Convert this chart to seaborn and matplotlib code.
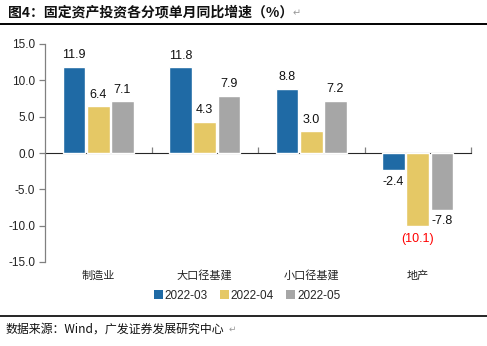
import matplotlib
matplotlib.use("Agg")
import matplotlib.pyplot as plt
import seaborn as sns
import pandas as pd
from matplotlib.lines import Line2D
from matplotlib.patches import Patch

categories = ["制造业", "大口径基建", "小口径基建", "地产"]
series_names = ["2022-03", "2022-04", "2022-05"]
v_2022_03 = [11.9, 11.8, 8.8, -2.4]
v_2022_04 = [6.4, 4.3, 3.0, -10.1]
v_2022_05 = [7.1, 7.9, 7.2, -7.8]
y_ticks = [-15, -10, -5, 0, 5, 10, 15]
colors = ["#1f6aa5", "#e5c865", "#a6a6a6"]

rows = []
for name, vals in zip(series_names, [v_2022_03, v_2022_04, v_2022_05]):
    for c, v in zip(categories, vals):
        rows.append({"cat": c, "series": name, "value": v})
df = pd.DataFrame(rows)

sns.set_style("white")
plt.rcParams["font.family"] = ["Liberation Sans", "Noto Sans CJK SC", "DejaVu Sans"]

fig = plt.figure(figsize=(4.87, 3.46), dpi=100)
ax = fig.add_axes([45/487, 1-262/346, (471-45)/487, (262-44)/346])

sns.barplot(data=df, x="cat", y="value", hue="series", palette=colors,
            order=categories, hue_order=series_names, width=0.68, gap=0.06,
            legend=False, ax=ax, errorbar=None, saturation=1)

ax.set_ylim(-15, 15)
ax.set_xlim(-0.5, 3.5)
ax.set_yticks(y_ticks)
ax.set_yticklabels([f"{t:.1f}" for t in y_ticks], fontsize=8.5, color="#222222")
ax.set_xlabel("")
ax.set_ylabel("")
for s in ["top", "right", "bottom"]:
    ax.spines[s].set_visible(False)
ax.spines["left"].set_color("#808080")
ax.spines["left"].set_linewidth(0.9)
ax.tick_params(axis="y", direction="out", length=4, color="#808080", width=0.9, pad=3, left=True)
ax.tick_params(axis="x", length=0, pad=6)
ax.set_xticks(range(len(categories)))
ax.set_xticklabels(categories, fontsize=8, family=["Noto Sans CJK SC"], color="#222222")

sec = ax.secondary_xaxis(0.5)
sec.set_xticks([0.5, 1.5, 2.5, 3.5])
sec.set_xticklabels([])
sec.tick_params(direction="out", length=4, color="#808080", width=0.9)
sec.spines["bottom"].set_color("#808080")
sec.spines["bottom"].set_linewidth(0.9)

all_vals = [v_2022_03, v_2022_04, v_2022_05]
for ci, (cont, vals) in enumerate(zip(ax.containers, all_vals)):
    labels = [f"{v:.1f}" for v in vals]
    if ci == 1:
        labels[3] = ""
    ax.bar_label(cont, labels=labels, padding=4, fontsize=9, color="#111111")
    if ci == 1:
        bar = cont.patches[3]
        ax.annotate(f"({abs(vals[3]):.1f})", (bar.get_x() + bar.get_width()/2, vals[3]),
                    xytext=(0, -5), textcoords="offset points", ha="center", va="top",
                    fontsize=9, color="#ff0000")

handles = [Patch(facecolor=c, edgecolor="none") for c in colors]
fig.legend(handles, series_names, loc="center", bbox_to_anchor=(247/487, 1-296/346),
           ncol=3, frameon=False, fontsize=8.5, handlelength=0.8, handleheight=0.8,
           handletextpad=0.15, columnspacing=1.0)

fig.text(8/487, 1-12/346, "图4：固定资产投资各分项单月同比增速（%）", fontsize=10,
         fontweight="bold", family=["Noto Sans CJK SC"], va="center", ha="left", color="#111111")
fig.text(293/487, 1-13/346, "↵", fontsize=7, family=["DejaVu Sans"], va="center", color="#999999")
fig.add_artist(Line2D([0, 1], [1-24/346, 1-24/346], color="#000000", lw=1.4))
fig.add_artist(Line2D([0, 1], [1-316/346, 1-316/346], color="#000000", lw=1.2))
fig.text(6/487, 1-329/346, "数据来源：Wind，广发证券发展研究中心", fontsize=8.6,
         family=["Noto Sans CJK SC", "DejaVu Sans"], va="center", ha="left", color="#111111")
fig.text(229/487, 1-329/346, "↵", fontsize=6.5, family=["DejaVu Sans"], va="center", color="#999999")

fig.savefig("out.png", dpi=100)
